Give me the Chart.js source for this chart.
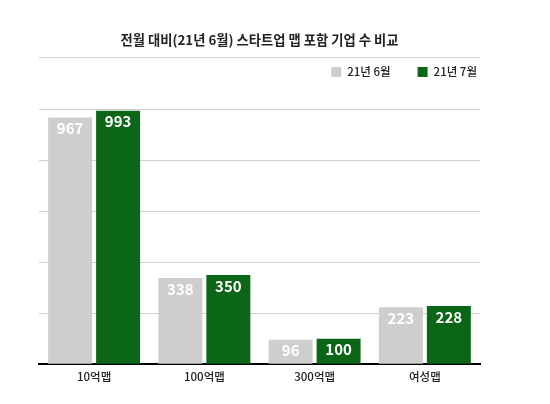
<!DOCTYPE html>
<html>
<head>
<meta charset="utf-8">
<script src="https://cdn.jsdelivr.net/npm/chart.js@4"></script>
<style>
  html, body { margin: 0; padding: 0; background: #fff; }
  #wrap { width: 550px; height: 404px; }
</style>
</head>
<body>
<div id="wrap"><canvas id="mapChart"></canvas></div>
<script>
const FONT = '"Noto Sans CJK KR", "Noto Sans", sans-serif';

const categories = ['10억맵', '100억맵', '300억맵', '여성맵'];
const seriesNames = ['21년 6월', '21년 7월'];
const juneCounts = [967, 338, 96, 223];
const julyCounts = [993, 350, 100, 228];
const yTicks = [0, 200, 400, 600, 800, 1000, 1200];

const COLORS = ['#cecece', '#0c6617'];

// white value labels inside the top of each bar
const barValues = {
    id: 'barValues',
    afterDatasetsDraw(chart) {
        const ctx = chart.ctx;
        ctx.save();
        ctx.font = 'bold 15px ' + FONT;
        ctx.fillStyle = '#fff';
        ctx.textAlign = 'center';
        ctx.textBaseline = 'middle';
        chart.data.datasets.forEach((ds, i) => {
            chart.getDatasetMeta(i).data.forEach((bar, j) => {
                ctx.fillText(ds.data[j], bar.x, bar.y + 11);
            });
        });
        ctx.restore();
    }
};

// legend sits inside the plot, right aligned, under the top grid line
const innerLegend = {
    id: 'innerLegend',
    afterDraw(chart) {
        const ctx = chart.ctx;
        const area = chart.chartArea;
        ctx.save();
        ctx.font = '500 11.5px ' + FONT;
        ctx.textBaseline = 'middle';
        ctx.textAlign = 'left';
        let right = area.right - 3;
        const y = area.top + 14;
        const items = chart.data.datasets.slice().reverse();
        items.forEach(ds => {
            const w = ctx.measureText(ds.label).width;
            const textX = right - w;
            const boxX = textX - 6 - 10;
            ctx.fillStyle = ds.backgroundColor;
            ctx.fillRect(boxX, y - 5, 10, 10);
            ctx.fillStyle = '#222';
            ctx.fillText(ds.label, textX, y);
            right = boxX - 27;
        });
        ctx.restore();
    }
};

document.addEventListener('DOMContentLoaded', function() {
    const ctx = document.getElementById('mapChart').getContext('2d');

    new Chart(ctx, {
        type: 'bar',
        data: {
            labels: categories,
            datasets: [{
                label: seriesNames[0],
                data: juneCounts,
                backgroundColor: COLORS[0],
                borderWidth: 0
            }, {
                label: seriesNames[1],
                data: julyCounts,
                backgroundColor: COLORS[1],
                borderWidth: 0
            }]
        },
        plugins: [barValues, innerLegend],
        options: {
            responsive: true,
            maintainAspectRatio: false,
            animation: false,
            categoryPercentage: 0.87,
            barPercentage: 0.917,
            layout: {
                padding: { top: 22, left: 39, right: 70, bottom: 14 }
            },
            plugins: {
                legend: { display: false },
                tooltip: { enabled: false },
                title: {
                    display: true,
                    text: '전월 대비(21년 6월) 스타트업 맵 포함 기업 수 비교',
                    color: '#222',
                    font: { family: FONT, size: 13.3, weight: 'bold' },
                    padding: { top: 10, bottom: 10 }
                }
            },
            scales: {
                y: {
                    min: yTicks[0],
                    max: yTicks[yTicks.length - 1],
                    afterBuildTicks: axis => {
                        axis.ticks = yTicks.map(v => ({ value: v }));
                    },
                    ticks: { display: false },
                    border: { display: false },
                    grid: {
                        color: '#d0d0d0',
                        lineWidth: 1,
                        drawTicks: false
                    }
                },
                x: {
                    ticks: {
                        color: '#222',
                        padding: 6,
                        font: { family: FONT, size: 11.5, weight: '500' }
                    },
                    border: { display: true, color: '#000', width: 2 },
                    grid: { display: false, drawTicks: false }
                }
            }
        }
    });
});
</script>
</body>
</html>
